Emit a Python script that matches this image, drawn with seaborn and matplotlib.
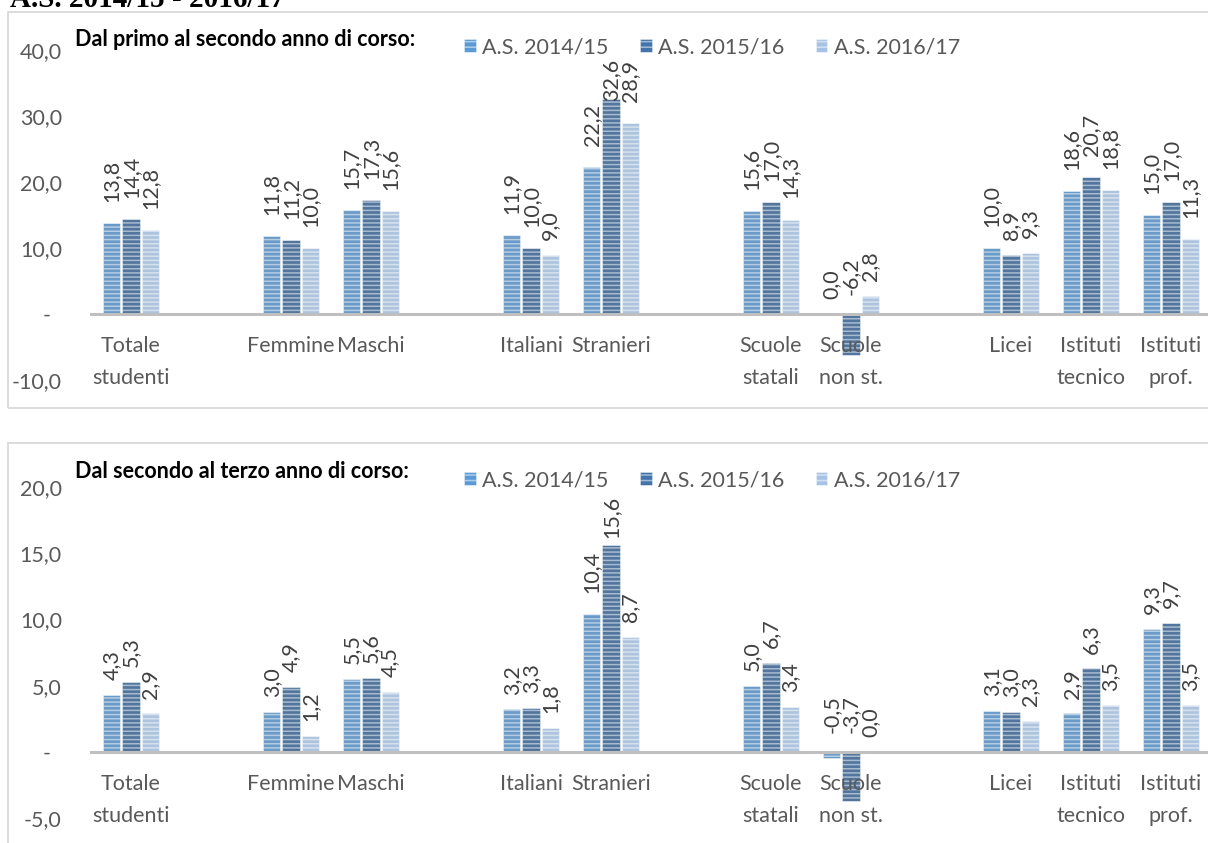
import matplotlib
matplotlib.use("Agg")
import matplotlib.pyplot as plt
from matplotlib.patches import Patch, Rectangle
import pandas as pd
import seaborn as sns

# ---- data -------------------------------------------------------------
categories = ["Totale\nstudenti", "Femmine", "Maschi", "Italiani", "Stranieri",
              "Scuole\nstatali", "Scuole\nnon st.", "Licei",
              "Istituti\ntecnico", "Istituti\nprof."]
years = ["A.S. 2014/15", "A.S. 2015/16", "A.S. 2016/17"]

# from first to second year
primo_2014_15 = [13.8, 11.8, 15.7, 11.9, 22.2, 15.6, 0.0, 10.0, 18.6, 15.0]
primo_2015_16 = [14.4, 11.2, 17.3, 10.0, 32.6, 17.0, -6.2, 8.9, 20.7, 17.0]
primo_2016_17 = [12.8, 10.0, 15.6, 9.0, 28.9, 14.3, 2.8, 9.3, 18.8, 11.3]

# from second to third year
secondo_2014_15 = [4.3, 3.0, 5.5, 3.2, 10.4, 5.0, -0.5, 3.1, 2.9, 9.3]
secondo_2015_16 = [5.3, 4.9, 5.6, 3.3, 15.6, 6.7, -3.7, 3.0, 6.3, 9.7]
secondo_2016_17 = [2.9, 1.2, 4.5, 1.8, 8.7, 3.4, 0.0, 2.3, 3.5, 3.5]

# category slots along the axis, empty slots separate the groups
slot_order = ["Totale\nstudenti", "gap_a", "Femmine", "Maschi", "gap_b",
              "Italiani", "Stranieri", "gap_c", "Scuole\nstatali",
              "Scuole\nnon st.", "gap_d", "Licei", "Istituti\ntecnico",
              "Istituti\nprof."]

primo_ticks = [-10, 0, 10, 20, 30, 40]
secondo_ticks = [-5, 0, 5, 10, 15, 20]

colors = {"A.S. 2014/15": "#5B9BD5",
          "A.S. 2015/16": "#4474AA",
          "A.S. 2016/17": "#A6C3E6"}


def long_frame(s1, s2, s3):
    rows = []
    for yr, vals in zip(years, (s1, s2, s3)):
        for cat, v in zip(categories, vals):
            rows.append({"categoria": cat, "anno": yr, "valore": v})
    return pd.DataFrame(rows)


def fmt(v):
    return f"{v:.1f}".replace(".", ",")


# ---- style ------------------------------------------------------------
sns.set_theme(style="white")
plt.rcParams["font.family"] = ["Lato", "DejaVu Sans"]
plt.rcParams["hatch.linewidth"] = 1.1

W, H, DPI = 1208, 843, 100
fig = plt.figure(figsize=(W / DPI, H / DPI), dpi=DPI)
fig.patch.set_facecolor("white")

GRAY = "#595959"
STRIPE = (1, 1, 1, 0.5)
TICK_FS = 15.5
LABEL_FS = 15.5


def px_box(left, top, right, bottom):
    return [left / W, 1 - bottom / H, (right - left) / W, (bottom - top) / H]


# panel frames
fig.add_artist(Rectangle((8 / W, 1 - 408 / H), 1.2, (408 - 12) / H,
                         transform=fig.transFigure, fill=False,
                         ec="#D9D9D9", lw=1.3))
fig.add_artist(Rectangle((8 / W, -0.1), 1.2, 0.1 + (H - 443) / H,
                         transform=fig.transFigure, fill=False,
                         ec="#D9D9D9", lw=1.3))

# heading above the first panel
fig.text(10 / W, 1 - 7 / H, "A.S. 2014/15 - 2016/17", family="Liberation Serif",
         fontweight="bold", fontsize=21, color="black", va="baseline", ha="left")


def draw_panel(box, df, ticks, title, title_y, legend_y):
    ax = fig.add_axes(box)
    sns.barplot(data=df, x="categoria", y="valore", hue="anno",
                order=slot_order, hue_order=years, palette=colors,
                errorbar=None, width=0.72, gap=0.1, ax=ax, legend=False)
    for p in ax.patches:
        p.set_hatch("----")
        p.set_edgecolor(STRIPE)
        p.set_linewidth(0.6)

    ax.set_axisbelow(False)
    ax.set_xlim(-0.5, -0.5 + (W - 91) / 80)
    ax.set_ylim(ticks[0], ticks[-1])
    ax.set_xlabel("")
    ax.set_ylabel("")
    ax.set_xticks(range(len(slot_order)))
    ax.set_xticklabels(["" if s.startswith("gap") else s for s in slot_order])
    ax.set_yticks(ticks)
    ax.set_yticklabels(["-  " if t == 0 else fmt(t) for t in ticks])
    ax.tick_params(axis="x", length=0, pad=16, labelsize=TICK_FS,
                   labelcolor=GRAY)
    ax.tick_params(axis="y", length=0, pad=21, labelsize=TICK_FS,
                   labelcolor=GRAY)
    for side in ("left", "top", "right"):
        ax.spines[side].set_visible(False)
    ax.spines["bottom"].set_position(("data", 0))
    ax.spines["bottom"].set_color("#BFBFBF")
    ax.spines["bottom"].set_linewidth(2.2)
    ax.patch.set_alpha(0)

    # value labels, rotated, above each bar end (or above zero)
    texts = []
    for cont in ax.containers:
        for p in cont.patches:
            h = p.get_height()
            xc = p.get_x() + p.get_width() / 2
            base = max(h, 0.0)
            t = ax.annotate(fmt(h), xy=(xc, base), xytext=(0, 0),
                            textcoords="offset points", rotation=90,
                            ha="center", va="bottom", fontsize=LABEL_FS,
                            color="#404040", annotation_clip=False)
            texts.append((t, base, xc))
    fig.canvas.draw()
    for lab in ax.get_xticklabels():
        lab.set_linespacing(1.75)
    top_px = ax.transAxes.transform((0, 1))[1]
    for t, base, xc in texts:
        length = t.get_window_extent().height
        base_px = ax.transData.transform((xc, base))[1]
        bottom = base_px + length / 2
        if bottom + length > top_px - 9:
            bottom = top_px - 9 - length
        t.xyann = (0, (bottom - base_px) * 72 / DPI)

    fig.text(75 / W, 1 - title_y / H, title, fontsize=15.5, fontweight="bold",
             color="black", va="center", ha="left")
    handles = [Patch(facecolor=colors[y], edgecolor=STRIPE, hatch="---",
                     linewidth=0.5, label=y) for y in years]
    fig.legend(handles=handles, loc="center left", ncol=3, frameon=False,
               bbox_to_anchor=(464 / W, 1 - legend_y / H),
               bbox_transform=fig.transFigure, fontsize=15.5,
               handlelength=0.55, handleheight=0.55, handletextpad=0.3,
               columnspacing=1.45, borderpad=0, borderaxespad=0,
               labelcolor=GRAY)
    return ax


draw_panel(px_box(91, 50, W, 380),
           long_frame(primo_2014_15, primo_2015_16, primo_2016_17),
           primo_ticks, "Dal primo al secondo anno di corso:", 40, 47)
draw_panel(px_box(91, 487, W, 818),
           long_frame(secondo_2014_15, secondo_2015_16, secondo_2016_17),
           secondo_ticks, "Dal secondo al terzo anno di corso:", 472, 480)

fig.savefig("out.png", dpi=DPI, facecolor="white")
